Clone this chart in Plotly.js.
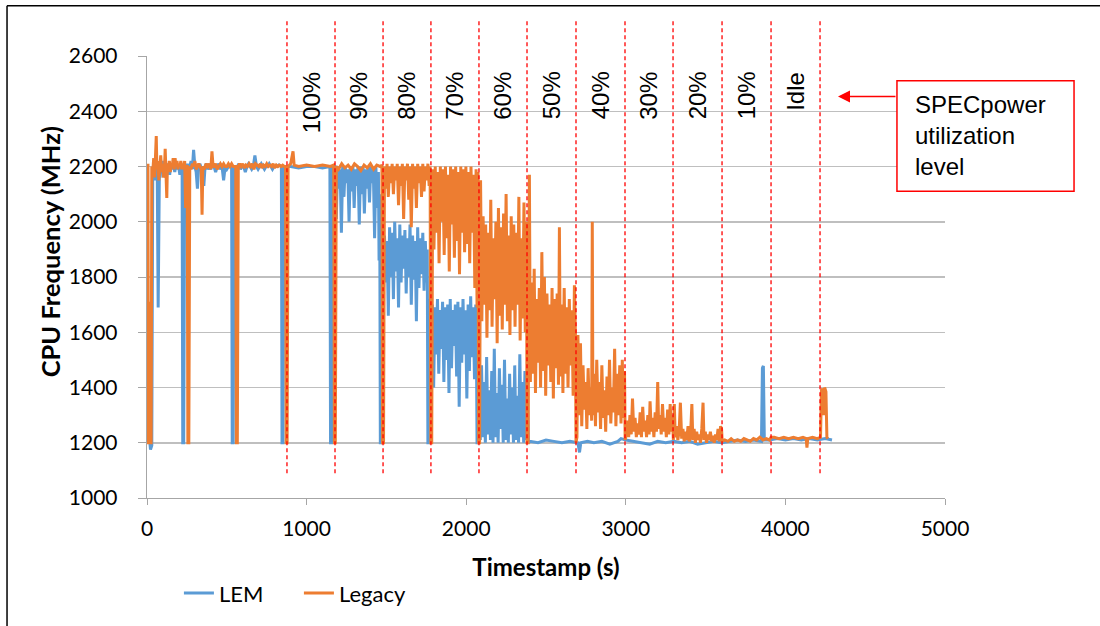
<!DOCTYPE html>
<html>
<head>
<meta charset="utf-8">
<script src="https://cdn.plot.ly/plotly-3.0.1.min.js"></script>
<style>
  html, body { margin: 0; padding: 0; background: #ffffff; }
  #chart { width: 1100px; height: 626px; }
</style>
</head>
<body>
<div id="chart"></div>
<script>
// [timestamp (s), CPU frequency (MHz)]
const lemSamples = [
  [10,1200],[18,1200],[22,1175],[30,1190],[36,2190],[40,2200],[46,2150],[52,2210],[58,2170],[64,2200],[70,1690],[74,2190],[78,2210],[82,2160],[88,2200],[95,2180],[102,2220],[110,2190],[118,2160],[126,2210],[134,2200],[142,2170],[150,2210],[158,2190],[166,2200],[174,2180],[182,2210],[190,2190],[198,2200],[206,2170],[214,2200],[220,2200],[224,1200],[230,1200],[236,2200],[244,2180],[252,2210],[260,2190],[268,2200],[276,2220],[284,2190],[292,2260],[300,2200],[308,2180],[316,2120],[324,2200],[332,2210],[340,2190],[348,2200],[356,2130],[364,2200],[372,2210],[380,2190],[390,2200],[400,2190],[410,2210],[420,2200],[430,2180],[440,2200],[450,2210],[460,2190],[470,2200],[480,2150],[490,2200],[500,2190],[510,2200],[520,2200],[530,2200],[534,1200],[540,1200],[546,2200],[556,2190],[566,2200],[576,2210],[586,2190],[596,2200],[606,2200],[616,2180],[626,2200],[636,2210],[646,2200],[656,2190],[666,2200],[676,2240],[686,2200],[696,2190],[706,2200],[716,2210],[726,2200],[736,2190],[746,2200],[756,2200],[766,2210],[776,2200],[786,2190],[796,2200],[806,2200],[816,2200],[826,2205],[836,2200],[842,2200],[846,1200],[852,1200],[858,2200],
  [900,2200],[950,2195],[1000,2200],[1050,2200],[1100,2195],[1146,2200],[1150,1200],[1156,1200],[1162,2200],[1170,2200],
  [1178,2200],[1186,2010],[1194,2200],[1202,2120],[1210,2190],[1218,1960],[1226,2200],[1234,2090],[1242,2200],[1250,2140],[1258,2190],[1266,2000],[1274,2200],[1282,2110],[1290,2200],[1298,2050],[1306,2190],[1314,2130],[1322,2200],[1330,1990],[1338,2200],[1346,2100],[1354,2200],[1362,2030],[1370,2190],[1378,2120],[1386,2200],[1394,2070],[1402,2200],[1410,2140],[1418,2190],[1426,1940],[1434,2200],[1442,2050],[1450,2180],[1454,1860],[1458,2100],[1462,1200],[1468,1200],[1474,1920],
  [1480,1700],[1488,1950],[1496,1780],[1504,1930],[1512,1660],[1520,1980],[1528,1800],[1536,1960],[1544,1720],[1552,2000],[1560,1820],[1568,1940],[1576,1690],[1584,1990],[1592,1780],[1600,1950],[1608,1830],[1616,1970],[1624,1740],[1632,1940],[1640,1800],[1648,1990],[1656,1700],[1664,1950],[1672,1790],[1680,1930],[1688,1640],[1696,1980],[1704,1760],[1712,1940],[1720,1810],[1728,1960],[1736,1750],[1744,1930],[1752,1780],[1756,1900],[1760,1200],[1766,1200],[1772,1720],
  [1780,1480],[1788,1700],[1796,1400],[1804,1690],[1812,1520],[1820,1720],[1828,1450],[1836,1680],[1844,1540],[1852,1710],[1860,1420],[1868,1690],[1876,1500],[1884,1700],[1892,1380],[1900,1720],[1908,1470],[1916,1680],[1924,1550],[1932,1700],[1940,1440],[1948,1710],[1956,1330],[1964,1690],[1972,1490],[1980,1720],[1988,1520],[1996,1680],[2004,1360],[2012,1700],[2020,1460],[2028,1730],[2036,1510],[2044,1690],[2052,1430],[2060,1700],[2064,1560],[2068,1200],[2074,1200],[2080,1530],
  [2088,1210],[2096,1480],[2104,1220],[2112,1420],[2120,1200],[2128,1510],[2136,1230],[2144,1390],[2152,1210],[2160,1460],[2168,1200],[2176,1540],[2184,1220],[2192,1380],[2200,1200],[2208,1470],[2216,1250],[2224,1410],[2232,1200],[2240,1500],[2248,1210],[2256,1360],[2264,1200],[2272,1450],[2280,1230],[2288,1400],[2296,1200],[2304,1480],[2312,1210],[2320,1370],[2328,1200],[2336,1520],[2344,1220],[2352,1420],[2360,1200],[2368,1460],[2376,1210],[2384,1390],[2390,1200],
  [2400,1205],[2450,1200],[2500,1210],[2550,1205],[2600,1200],[2650,1205],[2700,1200],[2710,1165],[2718,1200],[2760,1205],[2800,1200],[2850,1205],[2900,1195],[2950,1205],[2970,1215],[3000,1210],[3050,1205],[3100,1200],[3150,1195],[3200,1205],[3250,1200],[3300,1205],[3350,1200],[3400,1205],[3450,1195],[3500,1200],[3550,1205],[3600,1200],[3650,1205],[3700,1210],[3750,1205],[3800,1210],[3850,1205],[3856,1470],[3862,1478],[3868,1210],[3900,1210],[3950,1215],[4000,1210],[4050,1215],[4100,1210],[4150,1215],[4200,1210],[4250,1215],[4292,1210]
];

const legacySamples = [
  [0,2200],[3,1200],[6,2210],[9,1200],[14,1200],[18,1710],[22,1200],[26,1200],[30,2200],[36,2180],[42,2230],[48,2160],[54,2250],[58,2310],[62,2190],[68,2220],[74,2150],[80,2200],[86,2240],[92,2180],[98,2210],[104,2160],[110,2200],[114,2264],[118,2190],[124,2086],[128,2210],[134,2190],[140,2220],[146,2180],[152,2210],[158,2200],[164,2230],[170,2190],[176,2230],[182,2200],[188,2220],[194,2190],[200,2210],[206,2200],[212,2220],[218,2190],[224,2210],[230,2200],[236,2220],[242,2050],[248,2200],[252,2200],[256,1200],[262,1200],[268,2200],[276,2190],[284,2210],[292,2200],[300,2220],[308,2190],[316,2200],[324,2210],[332,2200],[340,2190],[345,2025],[350,2200],[360,2190],[370,2210],[380,2200],[390,2210],[400,2190],[407,2255],[414,2200],[420,2200],[430,2210],[440,2190],[450,2200],[460,2210],[470,2200],[480,2210],[490,2200],[500,2200],[510,2210],[520,2200],[530,2210],[540,2200],[550,2200],[556,2200],[560,1200],[566,1200],[572,2200],[580,2210],[590,2200],[600,2210],[610,2195],[620,2205],[630,2200],[640,2210],[650,2200],[660,2210],[670,2190],[680,2210],[690,2205],[700,2200],[710,2210],[720,2195],[730,2205],[740,2200],[750,2210],[760,2200],[770,2205],[780,2200],[790,2210],[800,2195],[810,2205],[820,2200],[830,2205],[840,2200],[850,2205],[860,2200],[868,2200],[872,1200],[878,1200],[884,2200],
  [900,2210],[915,2255],[922,2205],[950,2200],[1000,2205],[1050,2200],[1100,2205],[1150,2200],[1170,2205],[1174,1200],[1180,1200],[1186,2200],
  [1200,2190],[1220,2210],[1240,2195],[1260,2205],[1280,2190],[1300,2210],[1320,2200],[1340,2185],[1360,2205],[1380,2195],[1400,2210],[1420,2190],[1440,2205],[1460,2200],[1472,2205],[1476,1200],[1482,1200],[1488,2200],
  [1496,2120],[1504,2210],[1512,2090],[1520,2200],[1528,2140],[1536,2210],[1544,2100],[1552,2200],[1560,2150],[1568,2210],[1576,2060],[1584,2200],[1592,2130],[1600,2210],[1608,2010],[1616,2200],[1624,2150],[1632,2210],[1640,2080],[1648,2200],[1656,1980],[1664,2210],[1672,2120],[1680,2200],[1688,2050],[1696,2210],[1704,2140],[1712,2200],[1720,2090],[1728,2210],[1736,2110],[1744,2200],[1752,2150],[1760,2210],[1768,2130],[1774,2200],[1778,1200],[1784,1200],[1790,2190],
  [1798,1900],[1806,2200],[1814,1960],[1822,2180],[1830,1850],[1838,2200],[1846,2000],[1854,2190],[1862,1880],[1870,2200],[1878,1940],[1886,2170],[1894,1820],[1902,2200],[1910,1990],[1918,2190],[1926,1870],[1934,2200],[1942,1930],[1950,2180],[1958,1810],[1966,2200],[1974,1960],[1982,2190],[1990,1890],[1998,2200],[2006,1920],[2014,2180],[2022,1850],[2030,2200],[2038,1960],[2046,2170],[2054,1760],[2062,2190],[2068,1690],[2074,2180],[2078,1200],[2084,1200],[2090,2150],
  [2098,1640],[2106,2020],[2114,1700],[2122,1990],[2130,1580],[2138,1960],[2146,1680],[2154,2080],[2162,1620],[2170,1940],[2178,1720],[2186,2000],[2194,1560],[2202,2050],[2210,1660],[2218,1980],[2226,1610],[2234,2030],[2242,1700],[2250,2100],[2258,1640],[2266,1950],[2274,1590],[2282,2020],[2290,1680],[2298,1990],[2306,1620],[2314,1960],[2322,1700],[2330,2090],[2338,1570],[2346,1940],[2354,1650],[2362,2070],[2370,1600],[2378,2000],[2381,1200],[2388,1200],[2396,2170],
  [2402,1420],[2410,1780],[2418,1450],[2426,1830],[2434,1380],[2442,1720],[2450,1490],[2458,1760],[2466,1400],[2474,1890],[2482,1460],[2490,1800],[2498,1370],[2506,1740],[2514,1480],[2522,1700],[2530,1420],[2538,1760],[2546,1360],[2554,1720],[2562,1470],[2570,1740],[2578,1410],[2584,1980],[2590,1440],[2598,1700],[2606,1380],[2614,1760],[2622,1450],[2630,1690],[2638,1400],[2646,1720],[2654,1480],[2662,1680],[2670,1370],[2678,1770],[2684,1600],[2688,1200],[2694,1220],[2700,1590],
  [2708,1300],[2716,1560],[2724,1260],[2732,1480],[2740,1320],[2748,1420],[2756,1250],[2764,1470],[2772,1300],[2780,1400],[2786,1280],[2790,2000],[2794,1300],[2802,1450],[2810,1260],[2818,1500],[2826,1310],[2834,1420],[2842,1250],[2850,1480],[2858,1290],[2866,1390],[2874,1240],[2882,1440],[2890,1300],[2898,1500],[2906,1270],[2914,1400],[2922,1310],[2930,1540],[2938,1260],[2946,1450],[2954,1300],[2962,1480],[2970,1270],[2978,1500],[2986,1290],[2992,1460],[2996,1210],
  [3002,1230],[3010,1280],[3018,1220],[3026,1300],[3034,1230],[3042,1360],[3050,1240],[3058,1290],[3066,1220],[3074,1270],[3082,1230],[3090,1310],[3098,1220],[3106,1330],[3114,1240],[3122,1280],[3130,1220],[3138,1300],[3146,1230],[3152,1350],[3160,1240],[3168,1290],[3176,1220],[3184,1310],[3192,1240],[3200,1420],[3206,1250],[3214,1300],[3222,1230],[3230,1340],[3238,1240],[3246,1290],[3254,1220],[3262,1320],[3270,1230],[3278,1340],[3286,1240],[3292,1300],[3298,1210],
  [3304,1340],[3310,1220],[3318,1260],[3326,1210],[3334,1240],[3342,1345],[3350,1215],[3358,1250],[3366,1205],[3374,1240],[3382,1210],[3390,1260],[3398,1205],[3406,1230],[3414,1340],[3420,1210],[3428,1250],[3436,1200],[3444,1240],[3452,1210],[3460,1230],[3468,1200],[3476,1250],[3484,1345],[3490,1210],[3498,1240],[3506,1200],[3514,1230],[3522,1210],[3530,1240],[3538,1205],[3546,1225],[3554,1200],[3562,1230],[3570,1210],[3578,1250],[3586,1205],[3594,1260],[3600,1250],[3604,1205],
  [3620,1210],[3640,1205],[3660,1215],[3680,1205],[3700,1210],[3720,1205],[3740,1215],[3760,1210],[3780,1205],[3800,1215],[3820,1210],[3840,1220],[3860,1210],[3880,1215],[3900,1210],[3910,1220],
  [3930,1220],[3960,1215],[3990,1220],[4020,1215],[4050,1220],[4080,1215],[4110,1220],[4130,1215],[4135,1182],[4140,1215],[4170,1220],[4200,1215],[4220,1220],[4226,1390],[4234,1395],[4240,1300],[4246,1400],[4254,1385],[4260,1220],[4266,1215]
];

// SPECpower utilization level boundaries (s) and labels
const levelBoundaries = [877, 1178, 1479, 1779, 2080, 2381, 2688, 2995, 3296, 3603, 3910, 4217];
const levelLabels = ['100%', '90%', '80%', '70%', '60%', '50%', '40%', '30%', '20%', '10%', 'Idle'];

const xTicks = [0, 1000, 2000, 3000, 4000, 5000];
const yTicks = [1000, 1200, 1400, 1600, 1800, 2000, 2200, 2400, 2600];

const calibriLike = 'Lato, "Open Sans", sans-serif';
const arialLike = '"Liberation Sans", Arial, sans-serif';

const traces = [
  {
    type: 'scatter', mode: 'lines', name: 'LEM',
    x: lemSamples.map(p => p[0]), y: lemSamples.map(p => p[1]),
    line: { color: '#5b9bd5', width: 3 }
  },
  {
    type: 'scatter', mode: 'lines', name: 'Legacy',
    x: legacySamples.map(p => p[0]), y: legacySamples.map(p => p[1]),
    line: { color: '#ed7d31', width: 3 }
  }
];

const shapes = levelBoundaries.map(b => ({
  type: 'line', xref: 'x', yref: 'paper', x0: b, x1: b, y0: 0.056, y1: 1.083,
  line: { color: '#ff0000', width: 1.3, dash: '4px,3px' }, layer: 'above'
}));
// callout box
shapes.push({ type: 'rect', xref: 'paper', yref: 'paper', x0: 0.9398, x1: 1.1617, y0: 0.6942, y1: 0.9442,
  line: { color: '#ff0000', width: 1.5 }, fillcolor: '#ffffff' });
// outer frame (top, left)
shapes.push({ type: 'line', xref: 'paper', yref: 'paper', x0: -0.1754, x1: 1.20, y0: 1.1138, y1: 1.1138,
  line: { color: '#000000', width: 1.5 } });
shapes.push({ type: 'line', xref: 'paper', yref: 'paper', x0: -0.1754, x1: -0.1754, y0: 1.1138, y1: -0.30,
  line: { color: '#000000', width: 1.5 } });

const annotations = levelLabels.map((lab, i) => ({
  xref: 'x', yref: 'paper',
  x: (levelBoundaries[i] + levelBoundaries[i + 1]) / 2, y: 0.9688,
  text: lab, textangle: -90, showarrow: false,
  xanchor: 'center', yanchor: 'top',
  font: { family: arialLike, size: 24, color: '#000000' }
}));
annotations.push({
  xref: 'paper', yref: 'paper', x: 0.9599, y: 0.8192, xanchor: 'left', yanchor: 'middle',
  text: 'SPECpower<br>utilization<br>level', align: 'left', showarrow: false,
  font: { family: arialLike, size: 24, color: '#000000' }
});
annotations.push({
  xref: 'paper', yref: 'paper', x: 0.8659, y: 0.9085, text: '',
  showarrow: true, ax: 59, ay: 0, arrowhead: 2, arrowsize: 1.6, arrowwidth: 1.5,
  arrowcolor: '#ff0000', standoff: 0, startstandoff: 0
});
// y-axis title (placed like the original, slightly above the plot centre)
annotations.push({
  xref: 'paper', yref: 'paper', x: -0.1216, y: 0.5580, xanchor: 'center', yanchor: 'middle',
  text: '<b>CPU Frequency (MHz)</b>', textangle: -90, showarrow: false,
  font: { family: calibriLike, size: 25.5, color: '#000000' }
});

const layout = {
  width: 1100, height: 626,
  margin: { l: 147, r: 155, t: 56, b: 122 },
  paper_bgcolor: '#ffffff', plot_bgcolor: '#ffffff',
  font: { family: calibriLike, color: '#000000' },
  showlegend: true,
  legend: {
    orientation: 'h', x: 0.040, y: -0.168, xanchor: 'left', yanchor: 'top',
    font: { family: calibriLike, size: 22, color: '#000000' },
    entrywidth: 75, entrywidthmode: 'pixels', bgcolor: 'rgba(0,0,0,0)'
  },
  xaxis: {
    range: [0, 5000], tickvals: xTicks, ticktext: xTicks.map(String),
    showgrid: false, zeroline: false, showline: true, linecolor: '#a6a6a6', linewidth: 1.3,
    ticks: 'outside', ticklen: 6, tickcolor: '#a6a6a6', ticklabelstandoff: 5,
    tickfont: { family: calibriLike, size: 21, color: '#000000' },
    title: { text: '<b>Timestamp (s)</b>', font: { family: calibriLike, size: 24, color: '#000000' }, standoff: 20 },
    fixedrange: true
  },
  yaxis: {
    range: [1000, 2600], tickvals: yTicks, ticktext: yTicks.map(String),
    showgrid: true, gridcolor: '#bfbfbf', gridwidth: 1.5, zeroline: false,
    showline: true, linecolor: '#a6a6a6', linewidth: 1.3,
    ticks: 'outside', ticklen: 8, tickcolor: '#a6a6a6', ticklabelstandoff: 16,
    tickfont: { family: calibriLike, size: 21, color: '#000000' },
    fixedrange: true
  },
  shapes: shapes,
  annotations: annotations
};

Plotly.newPlot('chart', traces, layout, { displayModeBar: false, staticPlot: true });
</script>
</body>
</html>
